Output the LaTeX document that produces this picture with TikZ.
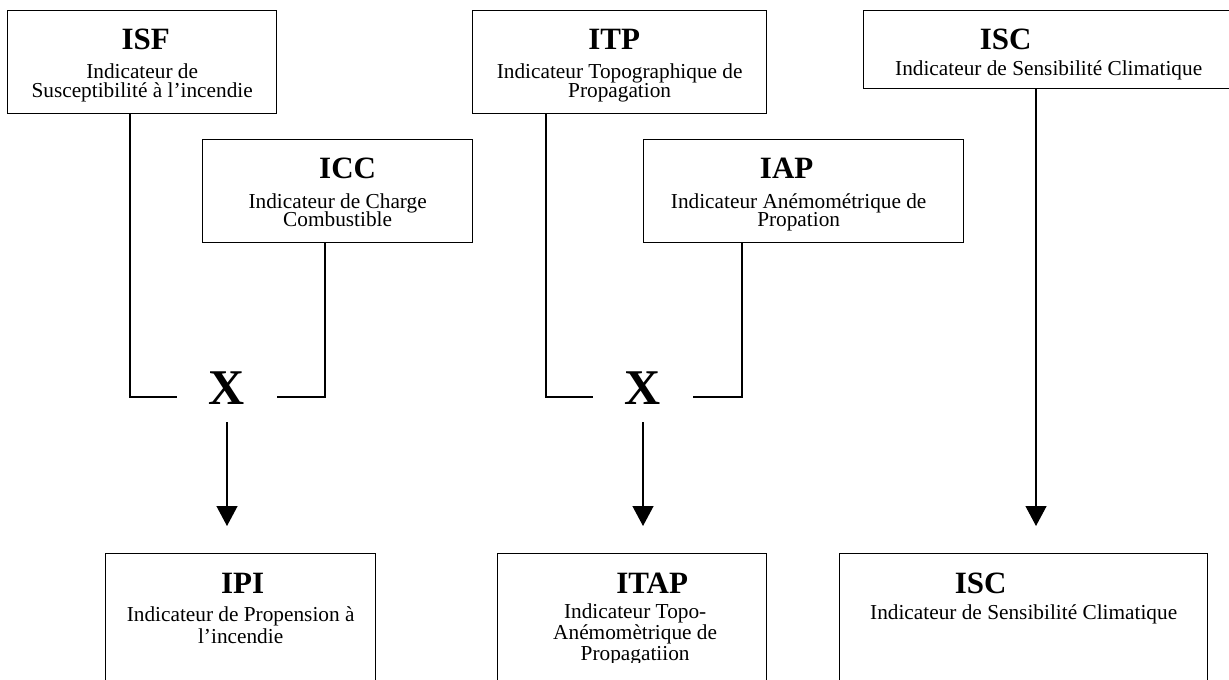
\documentclass[tikz,border=0pt]{standalone}
\usepackage{fontspec}
\setmainfont{Liberation Serif}
\usetikzlibrary{arrows.meta}

\begin{document}
\begin{tikzpicture}[x=0.5pt, y=-0.5pt,
    box/.style ={draw, line width=0.65pt, inner sep=0pt, anchor=north west, minimum height=51.5pt},
    title/.style ={font=\fontsize{15.5}{18}\selectfont\bfseries, anchor=base, inner sep=0pt},
    txt/.style ={font=\fontsize{10.65}{12}\selectfont, anchor=base, inner sep=0pt},
    mult/.style ={font=\fontsize{25}{30}\selectfont\bfseries, inner sep=0pt, minimum width=50pt, text depth=8.5pt},
    leg/.style ={line width=0.65pt},
    flow/.style ={line width=0.65pt, -{Triangle[width=10.5pt,length=10pt]}, shorten >=13.5pt}]
   \useasboundingbox (0,0) rectangle (1229,679);
   \clip (0,0) rectangle (1229,679);

   % indicator boxes
   \node[box, minimum width=134.5pt] (isf) at (7,10) {};
   \node[box, minimum width=135pt] (icc) at (202,139) {};
   \node[box, minimum width=147pt] (itp) at (472,10) {};
   \node[box, minimum width=160pt] (iap) at (643,139) {};
   \node[box, minimum width=185pt, minimum height=39pt] (isc) at (863,10) {};
   \node[box, minimum width=135pt, minimum height=85pt] (ipi) at (105,553) {};
   \node[box, minimum width=134.5pt, minimum height=85pt] (itap) at (497,553) {};
   \node[box, minimum width=184pt, minimum height=85pt] (iscres) at (839,553) {};

   \begin{scope}
     \clip (isf.north west) rectangle ([yshift=5pt]isf.south east);
     \node[title] (isf-t) at ([xshift=1.75pt, yshift=-20pt]isf.north) {ISF};
     \node[txt] (isf-a) at ([yshift=-34.5pt]isf.north) {Indicateur de};
     \node[txt] (isf-b) at ([yshift=-44pt]isf.north) {Susceptibilité à l’incendie};
   \end{scope}
   \begin{scope}
     \clip (icc.north west) rectangle ([yshift=5pt]icc.south east);
     \node[title] (icc-t) at ([xshift=5pt, yshift=-20pt]icc.north) {ICC};
     \node[txt] (icc-a) at ([yshift=-34.5pt]icc.north) {Indicateur de Charge};
     \node[txt] (icc-b) at ([yshift=-44pt]icc.north) {Combustible};
   \end{scope}
   \begin{scope}
     \clip (itp.north west) rectangle ([yshift=5pt]itp.south east);
     \node[title] (itp-t) at ([xshift=-2.75pt, yshift=-20pt]itp.north) {ITP};
     \node[txt] (itp-a) at ([yshift=-34.5pt]itp.north) {Indicateur Topographique de};
     \node[txt] (itp-b) at ([yshift=-44pt]itp.north) {Propagation};
   \end{scope}
   \begin{scope}
     \clip (iap.north west) rectangle ([yshift=5pt]iap.south east);
     \node[title] (iap-t) at ([xshift=-8.5pt, yshift=-20pt]iap.north) {IAP};
     \node[txt] (iap-a) at ([xshift=-2.5pt, yshift=-34.5pt]iap.north) {Indicateur Anémométrique de};
     \node[txt] (iap-b) at ([xshift=-2.5pt, yshift=-44pt]iap.north) {Propation};
   \end{scope}
   \begin{scope}
     \clip (isc.north west) rectangle ([yshift=5pt]isc.south east);
     \node[title] (isc-t) at ([xshift=-21.5pt, yshift=-20pt]isc.north) {ISC};
     \node[txt] (isc-a) at ([yshift=-33pt]isc.north) {Indicateur de Sensibilité Climatique};
   \end{scope}
   \begin{scope}
     \clip (ipi.north west) rectangle ([yshift=-54pt]ipi.north east);
     \node[title] (ipi-t) at ([xshift=1pt, yshift=-20pt]ipi.north) {IPI};
     \node[txt] (ipi-a) at ([yshift=-34pt]ipi.north) {Indicateur de Propension à};
     \node[txt] (ipi-b) at ([yshift=-45pt]ipi.north) {l’incendie};
   \end{scope}
   \begin{scope}
     \clip (itap.north west) rectangle ([yshift=-54.5pt]itap.north east);
     \node[title] (itap-t) at ([xshift=10pt, yshift=-20pt]itap.north) {ITAP};
     \node[txt] (itap-a) at ([xshift=1.5pt, yshift=-32.5pt]itap.north) {Indicateur Topo-};
     \node[txt] (itap-b) at ([xshift=1.5pt, yshift=-43pt]itap.north) {Anémomètrique de};
     \node[txt] (itap-c) at ([xshift=1.5pt, yshift=-53.5pt]itap.north) {Propagatiion};
   \end{scope}
   \begin{scope}
     \clip (iscres.north west) rectangle ([yshift=-54pt]iscres.north east);
     \node[title] (iscres-t) at ([xshift=-21.5pt, yshift=-20pt]iscres.north) {ISC};
     \node[txt] (iscres-a) at ([yshift=-33pt]iscres.north) {Indicateur de Sensibilité Climatique};
   \end{scope}

   % products
   \node[mult] (mult1) at (227,397) {X};
   \node[mult] (mult2) at (643,397) {X};

   \coordinate (isfleg) at ([xshift=61.5pt]isf.south west);
   \coordinate (iccleg) at ([xshift=61.5pt]icc.south west);
   \coordinate (itpleg) at ([xshift=37pt]itp.south west);
   \coordinate (iapleg) at ([xshift=49.5pt]iap.south west);
   \coordinate (iscleg) at ([xshift=86.5pt]isc.south west);

   \draw[leg] (isfleg) |- (mult1.west);
   \draw[leg] (iccleg) |- (mult1.east);
   \draw[leg] (itpleg) |- (mult2.west);
   \draw[leg] (iapleg) |- (mult2.east);

   \draw[flow] (mult1.south) -- (mult1.south |- ipi.north);
   \draw[flow] (mult2.south) -- (mult2.south |- itap.north);
   \draw[flow] (iscleg) -- (iscleg |- iscres.north);
 \end{tikzpicture}
\end{document}
